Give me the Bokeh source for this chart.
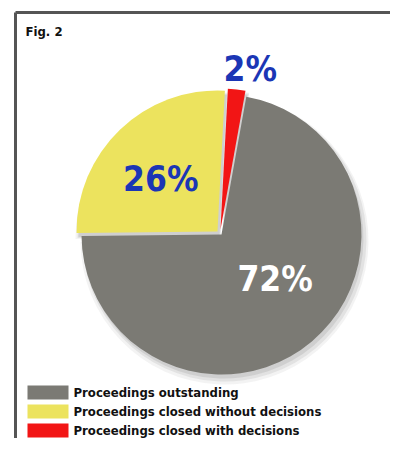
import numpy as np
from bokeh.plotting import figure
from bokeh.models import Range1d, ColumnDataSource
from bokeh.core.properties import value
from bokeh.embed import file_html
from bokeh.resources import INLINE

# ---- data ----
categories = ["Proceedings outstanding",
              "Proceedings closed without decisions",
              "Proceedings closed with decisions"]
shares = [72, 26, 2]
labels = ["72%", "26%", "2%"]
title = "Fig. 2"

# ---- style ----
colors = ["#7b7a74", "#ece35e", "#f21515"]
label_colors = ["#ffffff", "#1b36b5", "#1b36b5"]
FONT = "DejaVu Sans Condensed, Liberation Sans, sans-serif"
W, H = 390, 438

centers = [(221, 234), (217, 231), (220, 229)]
radii = [140, 141, 141]
label_pos = [(320, 0.50), (137, 0.55), (79.5, 1.16)]  # (angle deg, radius factor)
start_deg = 87
order = [1, 0, 2]  # counter-clockwise from start

p = figure(width=W, height=H, output_backend="svg", toolbar_location=None,
           x_range=Range1d(0, W), y_range=Range1d(-H, 0),
           x_axis_location=None, y_axis_location=None, min_border=0)
p.grid.visible = False
p.outline_line_color = None
p.background_fill_color = "white"
p.border_fill_color = "white"

starts, ends = [0.0] * 3, [0.0] * 3
a = np.deg2rad(start_deg)
for i in order:
    span = shares[i] / 100 * 2 * np.pi
    starts[i], ends[i] = a, a + span
    a += span

xs = [c[0] for c in centers]
ys = [-c[1] for c in centers]

# soft drop shadow
for dx, dy, alpha, dr in [(3, 6, 0.10, 4), (3, 5, 0.15, 2), (2, 4, 0.2, 0)]:
    p.wedge(x=[x + dx for x in xs], y=[y - dy for y in ys], radius=[r + dr for r in radii],
            start_angle=starts, end_angle=ends, fill_color="#888888", fill_alpha=alpha,
            line_color=None)

src = ColumnDataSource(dict(x=xs, y=ys, r=radii, s=starts, e=ends, c=colors))
p.wedge(x="x", y="y", radius="r", start_angle="s", end_angle="e",
        fill_color="c", line_color=None, source=src)

lx, ly = [], []
for i in range(3):
    ang, f = label_pos[i]
    lx.append(xs[i] + f * radii[i] * np.cos(np.deg2rad(ang)))
    ly.append(ys[i] + f * radii[i] * np.sin(np.deg2rad(ang)))
p.text(x=lx, y=ly, text=labels, text_color=label_colors, text_font=value(FONT),
       text_font_style="bold", text_font_size="35px", text_align="center",
       text_baseline="middle")

# frame lines (top & left)
p.segment(x0=[15, 15], y0=[-12, -12], x1=[W, 15], y1=[-12, -H],
          line_color="#555555", line_width=3)

p.text(x=[25], y=[-31], text=[title], text_font=value(FONT), text_font_style="bold",
       text_font_size="13px", text_baseline="middle", text_color="#111111")

leg_y = [-(392 + 19 * i) for i in range(3)]
p.rect(x=[47.5] * 3, y=leg_y, width=41, height=14, fill_color=colors, line_color=None)
p.text(x=[73] * 3, y=leg_y, text=categories, text_font=value(FONT),
       text_font_style="bold", text_font_size="13px", text_baseline="middle",
       text_color="#111111")

open("out.html", "w").write(file_html(p, INLINE))
